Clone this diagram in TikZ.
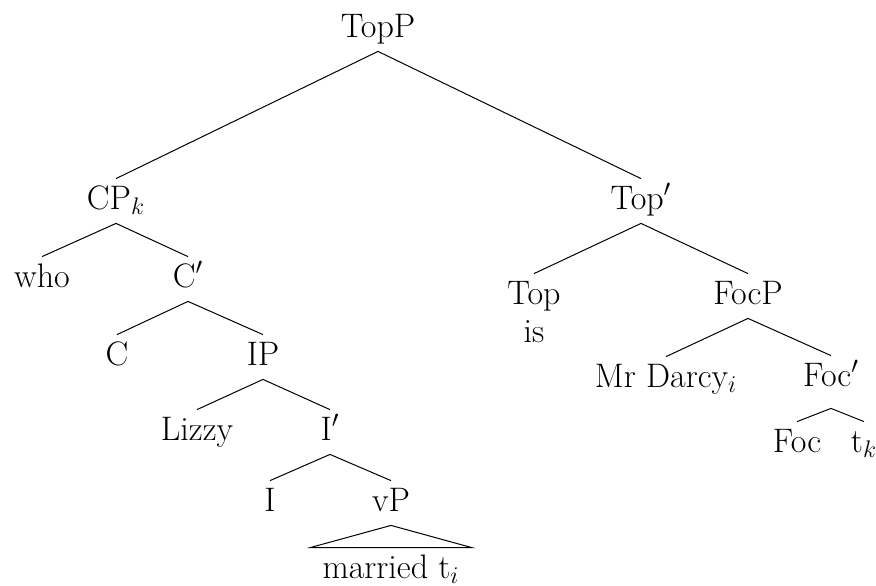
\documentclass[tikz,border=0pt]{standalone}
\begin{document}
\begin{tikzpicture}[x=0.5pt,y=-0.5pt,
  lab/.style={anchor=base, inner sep=3.5pt, text height=11.5pt, text depth=3.5pt, font=\fontsize{17}{20}\selectfont},
  deep/.style={lab, text depth=7.5pt},
  edge/.style={draw=black, line width=0.5pt}]
\useasboundingbox (0,0) rectangle (876,585);
\node[lab] (TopP) at (378,37) {TopP};
\node[lab] (CPk) at (116,209) {CP$_k$};
\node[lab] (Topb) at (641,209) {Top$'$};
\node[lab] (who) at (42,287) {who};
\node[lab] (Cb) at (188,287) {C$'$};
\node[lab] (Top) at (534,304) {Top};
\node[lab] (is) at (534,342) {is};
\node[lab] (FocP) at (748,304) {FocP};
\node[lab] (C) at (117,365) {C};
\node[lab] (IP) at (263,365) {IP};
\node[lab] (Lizzy) at (197,440) {Lizzy};
\node[lab] (Ib) at (330,440) {I$'$};
\node[lab] (I) at (270,511) {I};
\node[lab] (vP) at (391,511) {vP};
\node[lab, inner xsep=6pt] (married) at (391,578) {married t$_i$};
\node[lab] (Darcy) at (666,387) {Mr Darcy$_i$};
\node[deep] (Focb) at (831,386) {Foc$'$};
\node[lab] (Foc) at (797,452) {Foc};
\node[lab] (tk) at (864,452) {t$_k$};
\draw[edge] (TopP.south) -- (CPk.north);
\draw[edge] (TopP.south) -- (Topb.north);
\draw[edge] (CPk.south) -- (who.north);
\draw[edge] (CPk.south) -- (Cb.north);
\draw[edge] (Cb.south) -- (C.north);
\draw[edge] (Cb.south) -- (IP.north);
\draw[edge] (IP.south) -- (Lizzy.north);
\draw[edge] (IP.south) -- (Ib.north);
\draw[edge] (Ib.south) -- (I.north);
\draw[edge] (Ib.south) -- (vP.north);
\draw[edge] (vP.south) -- (married.north west) -- (married.north east) -- cycle;
\draw[edge] (Topb.south) -- (Top.north);
\draw[edge] (Topb.south) -- (FocP.north);
\draw[edge] (FocP.south) -- (Darcy.north);
\draw[edge] (FocP.south) -- (Focb.north);
\draw[edge] (Focb.south) -- (Foc.north);
\draw[edge] (Focb.south) -- (tk.north);
\end{tikzpicture}
\end{document}
